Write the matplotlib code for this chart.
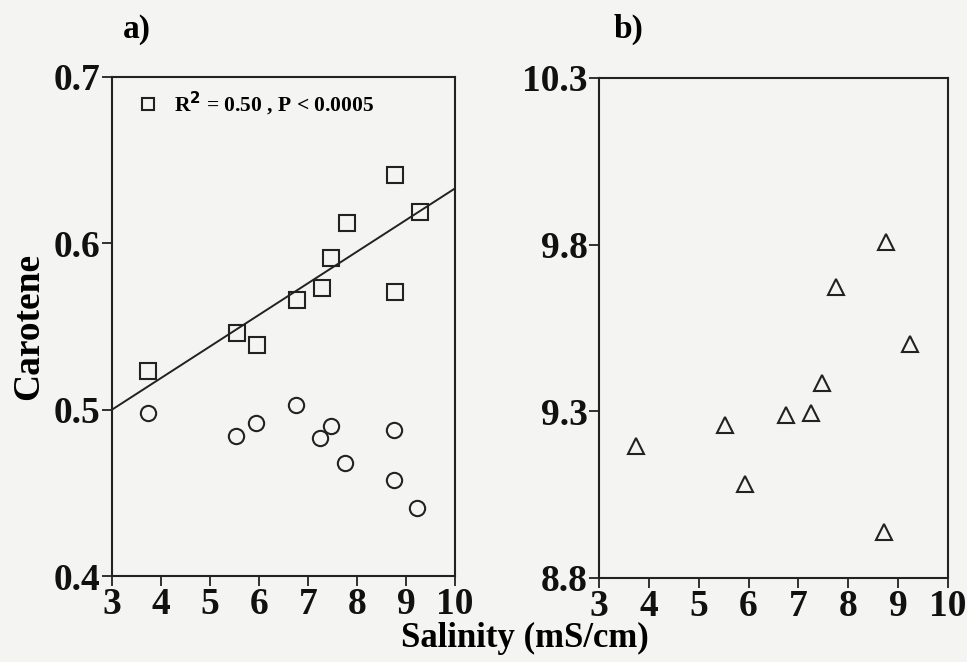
import numpy as np
from matplotlib import pyplot as plt

# panel a: carotene vs salinity
sal_sq = [8.77, 9.28, 7.79, 7.48, 7.28, 6.77, 8.77, 5.56, 5.96, 3.73]
car_sq = [0.641, 0.619, 0.612, 0.591, 0.573, 0.566, 0.571, 0.546, 0.539, 0.523]

sal_ci = [3.73, 5.54, 5.93, 6.76, 7.25, 7.46, 7.76, 8.75, 8.75, 9.23]
car_ci = [0.498, 0.484, 0.492, 0.503, 0.483, 0.490, 0.468, 0.488, 0.458, 0.441]

# regression line
fit_x = [3, 10]
fit_y = [0.500, 0.633]

# panel b
sal_tr = [8.75, 7.76, 9.23, 7.47, 6.75, 7.25, 5.53, 3.74, 5.93, 8.71]
val_tr = [9.809, 9.673, 9.501, 9.384, 9.289, 9.294, 9.259, 9.196, 9.082, 8.939]

xticks = [3, 4, 5, 6, 7, 8, 9, 10]
yticks_a = [0.4, 0.5, 0.6, 0.7]
yticks_b = [8.8, 9.3, 9.8, 10.3]

plt.rcParams['font.family'] = ['Liberation Serif', 'DejaVu Serif']
plt.rcParams['font.weight'] = 'bold'

bg = '#f4f4f2'
fig = plt.figure(figsize=(9.67, 6.62), dpi=100, facecolor=bg)
ax1 = fig.add_axes([0.1158, 0.1299, 0.3547, 0.7538], facecolor=bg)
ax2 = fig.add_axes([0.6194, 0.1269, 0.3610, 0.7553], facecolor=bg)

mk = dict(linestyle='none', markerfacecolor='none', markeredgecolor='#222222',
          markersize=11, markeredgewidth=1.5)

ax1.plot(sal_sq, car_sq, marker='s', **mk)
ax1.plot(sal_ci, car_ci, marker='o', **mk)
ax1.plot(fit_x, fit_y, color='#222222', lw=1.4)
ax1.set_xlim(3, 10)
ax1.set_ylim(0.4, 0.7)
ax1.set_yticks(yticks_a)
ax1.set_yticklabels(['0.4', '0.5', '0.6', '0.7'])

ax1.plot([0.105], [0.946], marker='s', transform=ax1.transAxes,
         **dict(mk, markersize=9))
ax1.text(0.18, 0.946, r'R$^{\mathbf{2}}$ = 0.50 , P < 0.0005', transform=ax1.transAxes,
         fontsize=15.5, fontweight='bold', va='center', ha='left')

ax2.plot(sal_tr, val_tr, marker='^', **mk)
ax2.set_xlim(3, 10)
ax2.set_ylim(8.8, 10.3)
ax2.set_yticks(yticks_b)
ax2.set_yticklabels(['8.8', '9.3', '9.8', '10.3'])

for ax in (ax1, ax2):
    ax.set_xticks(xticks)
    ax.tick_params(direction='out', length=7, width=1.3, labelsize=27, pad=1,
                   color='#222222', labelcolor='#111111')
    for s in ax.spines.values():
        s.set_linewidth(1.5)
        s.set_color('#222222')
    for lab in ax.get_xticklabels() + ax.get_yticklabels():
        lab.set_fontweight('bold')

ax1.set_ylabel('Carotene', fontsize=27, fontweight='bold', labelpad=6)
fig.text(0.543, 0.035, 'Salinity (mS/cm)', fontsize=25, fontweight='bold',
         ha='center', va='center')
fig.text(0.142, 0.955, 'a)', fontsize=24, fontweight='bold', ha='center', va='center')
fig.text(0.650, 0.955, 'b)', fontsize=24, fontweight='bold', ha='center', va='center')

fig.savefig('out.png', dpi=100, facecolor=bg)
